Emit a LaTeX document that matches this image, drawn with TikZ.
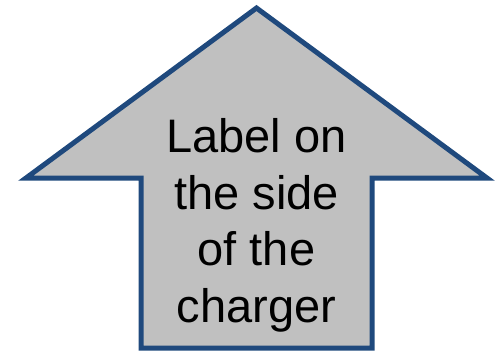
\documentclass[tikz,border=0pt]{standalone}
\usepackage{fontspec}
\setmainfont{Liberation Sans}
\definecolor{arrowblue}{RGB}{31,73,125}
\definecolor{arrowfill}{RGB}{192,192,192}
\begin{document}
\begin{tikzpicture}[x=1pt,y=-1pt,
  arrowshape/.style={draw=arrowblue,fill=arrowfill,line width=5pt,line join=miter,miter limit=10},
  labeltext/.style={align=center,inner sep=0pt,font=\fontsize{47}{56.5}\selectfont}]
\useasboundingbox (0,0) rectangle (500,351);
\draw[arrowshape] (256.5,8) coordinate (apex) -- (487,178) -- (372,178) -- (372,348) -- (141,348) -- (141,178) -- (26,178) -- cycle;
\node[labeltext,anchor=base] (lbl) at (256.5,322) {Label on\\the side\\of the\\charger};
\end{tikzpicture}
\end{document}
